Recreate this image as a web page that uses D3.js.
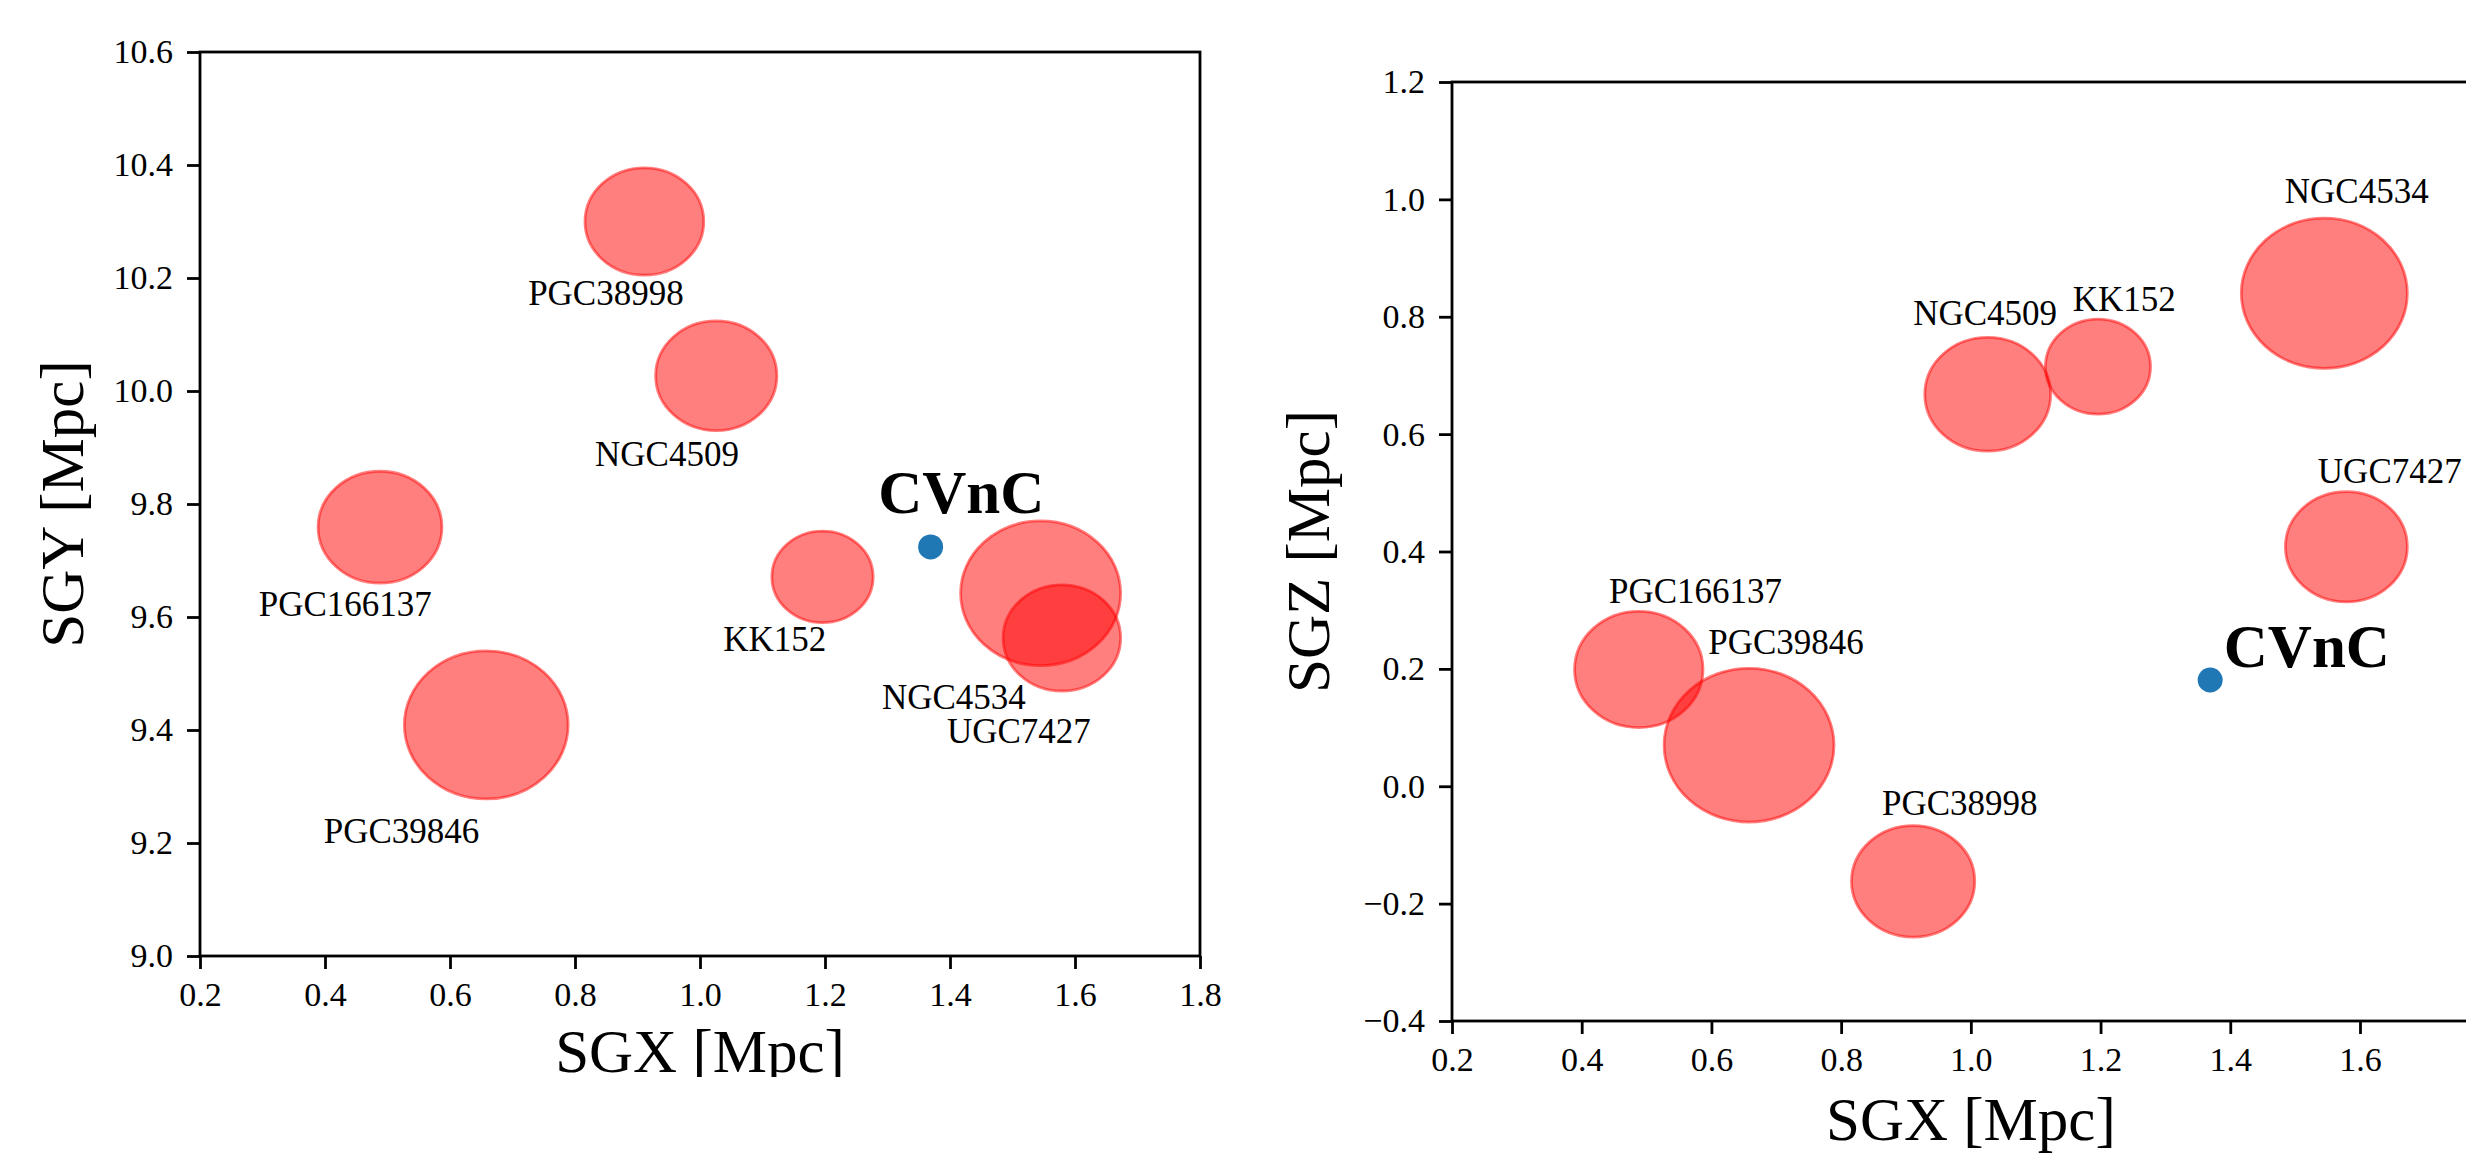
<!DOCTYPE html>
<html>
<head>
<meta charset="utf-8">
<script src="https://cdn.jsdelivr.net/npm/d3@7"></script>
<style>
  html, body { margin: 0; padding: 0; background: #fff; overflow: hidden; }
  svg { display: block; }
  text { font-family: "Liberation Serif", "Times New Roman", Times, serif; fill: #000; }
</style>
</head>
<body>
<svg id="chart" width="2466" height="1154"></svg>
<script>
// ---- data ----
const names  = ["PGC38998", "NGC4509", "KK152", "NGC4534", "UGC7427", "PGC166137", "PGC39846"];
const sgx    = [0.911, 1.026, 1.196, 1.545, 1.579, 0.488, 0.658];
const sgy    = [10.300, 10.027, 9.671, 9.642, 9.563, 9.759, 9.409];
const sgz    = [-0.162, 0.668, 0.715, 0.840, 0.408, 0.199, 0.070];
const radius = [0.095, 0.097, 0.081, 0.128, 0.094, 0.099, 0.131];

const groupName = "CVnC";
const groupXYZ  = [1.369, 9.724, 0.181];

// label anchor points (data units)
const labelLeftX  = [0.725, 0.832, 1.037, 1.291, 1.395, 0.294, 0.398];
const labelLeftY  = [10.152, 9.867, 9.540, 9.437, 9.377, 9.602, 9.200];
const labelRightX = [0.863, 0.911, 1.157, 1.484, 1.535, 0.442, 0.595];
const labelRightZ = [-0.049, 0.786, 0.810, 0.994, 0.517, 0.312, 0.225];
const groupLabelLeft  = [1.285, 9.784];
const groupLabelRight = [1.390, 0.203];

const xTicks  = [0.2, 0.4, 0.6, 0.8, 1.0, 1.2, 1.4, 1.6, 1.8];
const yTicksL = [9.0, 9.2, 9.4, 9.6, 9.8, 10.0, 10.2, 10.4, 10.6];
const zTicksR = [-0.4, -0.2, 0.0, 0.2, 0.4, 0.6, 0.8, 1.0, 1.2];

const xLabel  = "SGX [Mpc]";
const yLabelL = "SGY [Mpc]";
const zLabelR = "SGZ [Mpc]";

// ---- drawing ----
const W = 2466, H = 1154;
const svg = d3.select("#chart");
const fmt = d3.format(".1f");
const TICK_FONT = 34, LABEL_FONT = 35, AXIS_FONT = 61, GROUP_FONT = 61;
const LW = 2.8;

svg.append("defs").append("clipPath").attr("id", "leftClip")
  .append("rect").attr("x", 0).attr("y", 0).attr("width", 1300).attr("height", 1077);

function panel(g, cfg) {
  const x = d3.scaleLinear().domain([0.2, 1.8]).range(cfg.xr);
  const y = d3.scaleLinear().domain(cfg.yd).range(cfg.yr);

  g.selectAll("ellipse.gal").data(names.map((n, i) => i)).join("ellipse")
    .attr("class", "gal")
    .attr("cx", i => x(sgx[i]))
    .attr("cy", i => y(cfg.yv[i]))
    .attr("rx", i => Math.abs(x(radius[i]) - x(0)))
    .attr("ry", i => Math.abs(y(0) - y(radius[i])))
    .attr("fill", "red").attr("fill-opacity", 0.5)
    .attr("stroke", "red").attr("stroke-opacity", 0.5)
    .attr("stroke-width", LW);

  g.append("circle")
    .attr("cx", x(groupXYZ[0]))
    .attr("cy", y(cfg.gv))
    .attr("r", 12.5)
    .attr("fill", "#1f77b4");

  g.selectAll("text.gl").data(names.map((n, i) => i)).join("text")
    .attr("class", "gl")
    .attr("x", i => x(cfg.lx[i]))
    .attr("y", i => y(cfg.ly[i]))
    .attr("font-size", LABEL_FONT)
    .text(i => names[i]);

  g.append("text")
    .attr("x", x(cfg.gl[0])).attr("y", y(cfg.gl[1]))
    .attr("font-size", GROUP_FONT).attr("font-weight", "bold")
    .text(groupName);

  // only ticks whose label fits on the canvas
  const xt = xTicks.filter(v => x(v) + 20 < W);
  const xa = g.append("g").attr("transform", `translate(0,${cfg.yr[0]})`)
    .call(d3.axisBottom(x).tickValues(xt).tickFormat(fmt).tickSize(13).tickPadding(13).tickSizeOuter(0));
  const ya = g.append("g").attr("transform", `translate(${cfg.xr[0]},0)`)
    .call(d3.axisLeft(y).tickValues(cfg.yt).tickFormat(fmt).tickSize(13).tickPadding(14).tickSizeOuter(0));
  [xa, ya].forEach(a => {
    a.select(".domain").remove();
    a.selectAll("line").attr("stroke", "#000").attr("stroke-width", LW);
    a.selectAll("text").attr("font-size", TICK_FONT).attr("fill", "#000");
  });

  g.append("rect")
    .attr("x", cfg.xr[0]).attr("y", cfg.yr[1])
    .attr("width", cfg.xr[1] - cfg.xr[0]).attr("height", cfg.yr[0] - cfg.yr[1])
    .attr("fill", "none").attr("stroke", "#000").attr("stroke-width", LW);

  g.append("text")
    .attr("x", (cfg.xr[0] + cfg.xr[1]) / 2).attr("y", cfg.xlabY)
    .attr("text-anchor", "middle").attr("font-size", AXIS_FONT)
    .text(xLabel);
  const cy = (cfg.yr[0] + cfg.yr[1]) / 2;
  g.append("text")
    .attr("transform", `translate(${cfg.ylabX},${cy}) rotate(-90)`)
    .attr("text-anchor", "middle").attr("font-size", AXIS_FONT)
    .text(cfg.ylab);
}

panel(svg.append("g").attr("clip-path", "url(#leftClip)"), {
  xr: [200, 1200], yd: [9.0, 10.6], yr: [956, 52],
  yv: sgy, gv: groupXYZ[1], lx: labelLeftX, ly: labelLeftY, gl: groupLabelLeft,
  yt: yTicksL, xlabY: 1072, ylabX: 83, ylab: yLabelL
});

panel(svg.append("g"), {
  xr: [1452, 2489.7], yd: [-0.4, 1.2], yr: [1021, 82],
  yv: sgz, gv: groupXYZ[2], lx: labelRightX, ly: labelRightZ, gl: groupLabelRight,
  yt: zTicksR, xlabY: 1140, ylabX: 1329, ylab: zLabelR
});
</script>
</body>
</html>
